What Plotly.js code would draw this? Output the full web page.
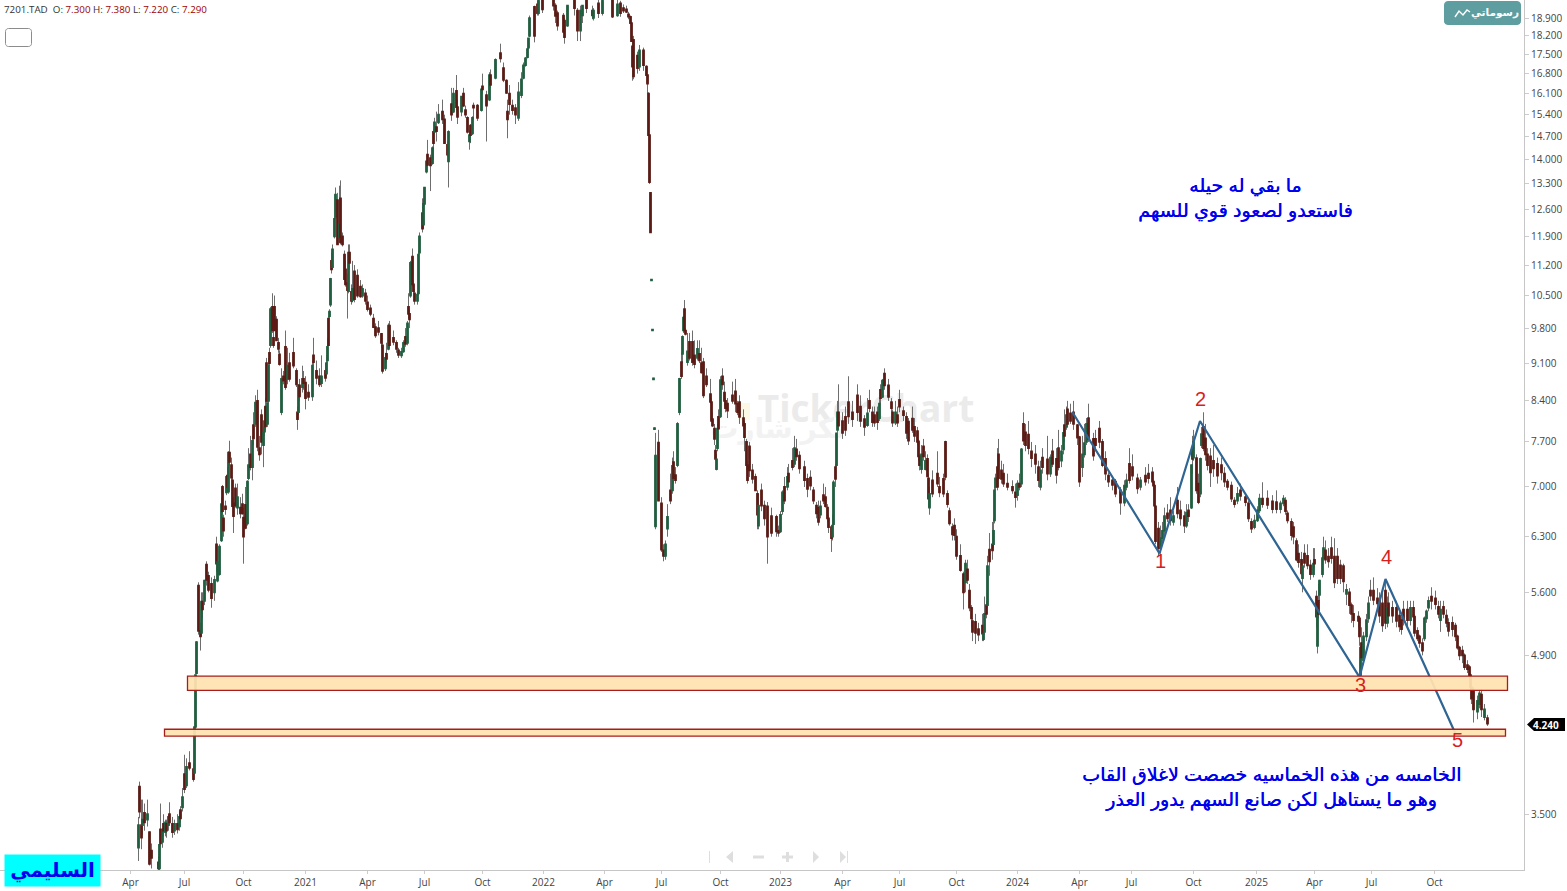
<!DOCTYPE html>
<html><head><meta charset="utf-8">
<script src="https://cdn.plot.ly/plotly-3.0.1.min.js"></script>
<style>html,body{margin:0;padding:0;background:#fff;overflow:hidden}</style>
</head><body><div id="chart" style="width:1567px;height:891px"></div>
<script>
// rows: [session, open, high, low, close]
const candles2020a=[[8,3.26,3.48,3.17,3.42],[9,3.71,3.75,3.47,3.52],[11,3.42,3.61,3.25,3.33],[12,3.42,3.61,3.35,3.46],[14,3.51,3.58,3.38,3.44],[17,3.46,3.61,3.41,3.50],[19,3.37,3.37,3.14,3.15],[21,3.24,3.29,3.12,3.19],[28,3.16,3.20,3.11,3.12],[29,3.12,3.28,3.11,3.28],[30,3.39,3.58,3.27,3.29],[32,3.30,3.40,3.26,3.38],[33,3.43,3.50,3.34,3.38],[35,3.37,3.46,3.34,3.44],[36,3.43,3.46,3.33,3.38],[38,3.42,3.50,3.38,3.48],[39,3.50,3.59,3.42,3.44],[42,3.43,3.48,3.33,3.37],[44,3.38,3.46,3.35,3.43],[47,3.43,3.50,3.36,3.39],[49,3.41,3.52,3.38,3.48],[50,3.53,3.56,3.44,3.47],[52,3.55,3.70,3.52,3.63],[54,3.81,3.97,3.66,3.69],[56,3.72,3.94,3.70,3.87],[59,3.90,4.00,3.84,3.86],[63,3.85,3.90,3.75,3.77],[64,3.82,4.21,3.81,4.21],[65,4.21,4.70,4.21,4.70],[66,4.72,5.05,4.72,5.04]];
const candles2020b=[[68,5.68,5.72,5.12,5.16],[70,5.16,5.25,4.95,5.10],[71,5.14,5.60,5.10,5.49],[72,5.49,5.60,5.30,5.40],[74,5.50,5.75,5.45,5.74],[76,5.94,5.98,5.68,5.75],[78,5.80,5.85,5.60,5.63],[81,5.70,5.78,5.42,5.53],[84,5.60,5.80,5.50,5.75],[86,6.2,6.3,5.85,5.95],[87,5.74,5.98,5.72,5.97],[89,5.82,6.20,5.80,6.17],[91,6.25,6.85,6.23,6.75],[92,7.0,7.03,6.62,6.65],[93,6.55,6.6,6.3,6.38],[95,6.72,6.8,6.6,6.68],[96,6.92,7.18,6.88,7.15],[97,7.17,7.3,6.95,7.0],[98,6.93,7.55,6.9,7.53],[99,7.53,7.72,7.32,7.38],[101,7.33,7.45,7.1,7.14],[102,7.1,7.15,6.72,6.72],[103,6.76,6.85,6.35,6.58],[105,6.98,7.05,6.7,6.73],[107,6.7,7.05,6.6,6.85],[110,6.7,6.85,6.55,6.62],[112,6.75,6.9,6.6,6.62],[113,6.56,6.7,5.95,6.3],[115,6.74,7.0,6.4,6.42],[117,6.48,7.1,6.45,7.08],[118,7.13,7.6,7.1,7.33],[120,7.5,7.8,7.25,7.3]];
const candles2020c=[[122,7.3,7.8,7.1,7.72],[123,7.98,8.2,7.65,7.76],[125,8.0,8.5,7.95,8.37],[127,8.4,8.6,7.55,7.62],[129,7.6,7.8,7.4,7.5],[131,8.15,8.25,7.5,7.7],[133,7.65,7.95,7.3,7.85],[134,7.87,8.3,7.8,8.05],[135,8.3,8.45,7.9,7.96],[136,9.1,9.2,8.35,8.4],[137,8.0,8.6,7.95,8.35],[138,8.4,9.2,8.35,9.05],[139,9.3,9.4,9.05,9.1],[140,9.45,10.25,9.4,10.2],[142,10.25,10.55,9.7,9.75],[143,9.6,9.75,9.4,9.45],[144,10.25,10.5,9.75,9.75],[146,9.98,10.05,9.55,9.55],[148,9.5,9.6,9.3,9.38],[149,9.27,9.35,9.05,9.08],[151,8.2,9.0,8.15,8.8],[153,8.85,8.95,8.7,8.77],[155,9.42,9.75,8.6,8.65],[157,8.8,9.4,8.7,9.05],[159,9.1,9.3,8.75,8.8],[163,9.3,9.6,9.0,9.05],[166,8.95,9.0,8.65,8.7],[167,8.2,8.3,7.9,8.08],[168,8.2,8.7,8.15,8.68],[169,8.68,8.8,8.4,8.48],[172,8.65,9.05,8.55,8.8],[173,8.8,8.95,8.6,8.72],[175,8.73,8.85,8.25,8.45]];
const candles2021a=[[178,8.55,8.7,8.4,8.47],[182,8.48,9.15,8.4,9.05],[183,9.25,9.6,9.05,9.12],[186,8.95,9.15,8.7,8.82],[189,8.85,9.0,8.65,8.7],[191,8.72,9.25,8.65,8.85],[195,8.95,9.1,8.75,8.82],[196,8.9,9.25,8.85,9.1],[197,9.15,9.6,9.1,9.42],[198,10.0,10.05,9.45,9.45],[199,10.05,10.2,10.0,10.15],[200,10.3,10.9,10.25,10.88],[201,11.3,11.5,11.0,11.1],[202,11.15,11.7,11.1,11.58],[204,11.9,12.4,11.85,12.35],[205,12.4,13.2,12.35,13.0],[207,12.85,13.05,11.7,11.7],[209,11.9,13.25,11.85,12.2],[210,12.9,13.4,11.7,11.75],[212,11.9,12.0,11.65,11.7],[214,11.45,11.55,10.85,10.87],[215,11.1,11.3,10.7,10.75],[217,10.78,11.0,10.0,10.62],[218,10.6,11.7,10.55,11.5],[219,11.5,11.7,11.1,11.25],[221,10.58,10.75,10.3,10.38],[222,10.4,11.3,10.35,10.65],[224,11.05,11.2,10.35,10.42],[227,10.95,11.1,10.45,10.5],[230,10.7,10.85,10.45,10.48],[232,10.5,10.75,10.45,10.65],[235,10.55,10.65,10.3,10.38]];
const candles2021b=[[237,10.35,10.5,10.15,10.2],[240,10.22,10.3,10.05,10.1],[243,10.0,10.1,9.8,9.82],[245,9.82,9.9,9.6,9.65],[248,9.8,9.95,9.65,9.72],[251,9.68,9.7,9.4,9.5],[252,9.45,9.5,8.9,8.95],[255,9.0,9.3,8.95,9.2],[256,9.28,9.5,9.1,9.18],[258,9.38,9.9,9.35,9.85],[259,9.85,9.95,9.4,9.45],[263,9.6,9.75,9.45,9.52],[266,9.5,9.55,9.3,9.38],[268,9.35,9.4,9.2,9.26],[271,9.25,9.4,9.2,9.32],[273,9.33,9.55,9.3,9.5],[275,9.62,9.8,9.42,9.48],[277,9.5,9.95,9.45,9.9],[278,10.25,10.55,10.0,10.1],[279,10.1,10.2,9.8,9.98],[280,10.5,11.3,10.45,11.25],[282,11.4,11.6,10.7,10.75],[283,10.75,10.85,10.55,10.6],[284,10.55,10.65,10.3,10.38],[287,10.38,10.6,10.3,10.52],[288,10.55,11.55,10.5,11.45],[289,11.5,12.0,11.45,11.9],[292,12.5,12.9,12.0,12.1],[293,12.2,12.9,12.1,12.75],[294,12.75,13.2,12.7,13.2],[296,13.65,13.95,13.6,13.95],[297,14.15,14.6,13.8,13.85]];
const candles2021c=[[300,14.05,14.15,13.1,13.83],[302,13.9,14.4,13.85,14.35],[303,14.85,14.95,14.0,14.5],[304,14.85,15.3,14.8,15.15],[306,15.0,15.5,14.55,14.87],[308,15.15,15.75,15.1,15.4],[312,15.5,15.9,15.1,15.25],[314,15.25,15.4,14.5,14.5],[317,14.45,14.55,14.1,14.15],[318,13.95,14.9,13.2,14.85],[321,15.75,16.3,15.2,15.4],[323,15.5,16.3,15.45,16.1],[326,16.2,16.75,15.55,15.65],[327,15.65,15.9,15.1,15.33],[331,15.5,16.0,15.35,16.0],[333,16.1,16.3,15.65,15.7],[335,15.55,15.7,15.3,15.4],[337,15.3,15.35,14.8,14.85],[339,14.55,14.9,14.3,14.75],[340,15.05,15.1,14.5,14.75],[342,14.8,15.35,14.75,15.3],[343,15.7,15.8,15.25,15.63],[347,15.7,15.75,15.2,15.3],[351,15.55,16.3,15.5,16.25],[352,16.35,16.8,16.1,16.25],[356,16.05,16.2,14.55,15.7],[359,15.9,16.85,15.85,16.75],[360,16.75,16.95,16.3,16.4],[365,16.65,17.35,16.6,17.3],[370,17.55,17.9,17.2,17.35],[373,17.0,17.2,16.5,16.58],[376,16.55,16.6,16.1,16.13],[377,15.5,15.9,14.65,15.25],[379,16.1,16.4,15.4,15.75],[382,15.7,15.9,15.4,15.55],[385,15.62,15.75,15.1,15.4]];
const candles2022a=[[388,15.3,16.5,15.2,16.15],[391,16.05,16.85,15.95,16.6],[393,16.65,17.2,16.6,17.1],[395,17.1,17.4,17.05,17.35],[397,17.4,17.75,17.35,17.7],[398,17.75,18.1,17.7,18.1],[399,18.2,19.0,18.15,18.9],[404,19.35,19.4,17.95,18.2],[407,19.45,19.6,19.0,19.1],[408,19.1,19.63,19.0,19.6],[412,19.63,19.7,19.1,19.25],[423,19.63,19.7,19.2,19.4],[425,19.4,19.5,18.7,18.98],[427,19.1,19.2,18.4,18.6],[433,19.0,19.1,18.3,18.35],[434,18.8,18.9,17.9,18.15],[437,18.6,19.4,18.55,19.4],[444,19.63,19.7,19.0,19.3],[447,19.2,19.3,18.0,18.4],[450,18.4,19.4,18.0,19.2],[452,19.0,19.4,18.7,19.4],[456,19.63,19.7,19.1,19.3],[462,19.2,19.4,18.85,19.0],[463,18.9,19.3,18.8,19.2],[468,19.5,19.7,18.9,19.1],[472,19.1,19.7,19.0,19.6],[482,19.63,19.7,18.9,18.95],[487,19.0,19.7,18.95,19.45],[490,19.5,19.6,18.95,19.1],[493,19.3,19.45,19.1,19.2],[496,19.25,19.4,19.1,19.15],[498,19.05,19.15,18.85,18.95],[500,18.95,19.0,18.65,18.7],[501,18.7,18.75,18.0,18.0],[502,17.8,18.2,16.55,17.05],[503,18.05,18.2,16.6,16.7],[507,17.45,17.6,16.8,17.0],[509,17.05,17.85,16.9,17.65],[513,17.65,17.75,16.9,17.1],[516,17.05,17.1,16.7,16.75],[517,16.75,16.75,16.1,16.45],[518,16.1,16.15,14.75,14.75],[519,14.75,14.75,13.3,13.35],[520,13.05,13.05,12.0,12.0],[521,10.84,10.86,10.84,10.86],[522,9.75,9.77,9.75,9.77],[523,8.79,8.81,8.79,8.81],[524,7.91,7.93,7.91,7.93]];
const candles2022b=[[525,6.44,7.85,6.4,7.48],[528,7.69,7.9,6.8,6.8],[531,6.76,6.85,6.1,6.13],[533,6.12,6.2,5.98,6.05],[535,6.05,6.25,6.0,6.2],[537,6.41,6.75,6.3,6.57],[540,6.95,7.2,6.75,6.8],[542,6.95,7.45,6.9,7.32],[543,7.38,7.55,7.05,7.13],[545,7.18,7.3,7.05,7.1],[547,7.33,8.03,7.3,8.0],[549,8.2,8.82,8.15,8.8],[551,9.12,9.3,8.8,8.85],[552,9.28,9.65,9.1,9.62],[553,9.75,10.05,9.7,10.02],[554,10.2,10.4,9.72,9.75],[555,9.75,9.8,9.65,9.68],[557,9.12,9.7,9.05,9.33],[559,9.52,9.7,9.15,9.2],[562,9.52,9.75,9.05,9.12],[564,9.25,9.55,9.0,9.08],[567,9.2,9.55,9.15,9.38],[569,9.28,9.55,9.1,9.15],[571,9.1,9.4,8.9,8.92],[573,9.12,9.2,8.45,8.5],[576,8.85,9.0,8.65,8.7],[580,8.52,8.8,8.35,8.38],[581,8.38,8.45,8.05,8.05],[582,8.08,8.2,7.95,7.97],[584,7.92,8.0,7.65,7.75],[585,7.56,7.65,7.4,7.43],[586,7.27,7.5,7.25,7.42],[587,7.6,8.0,7.55,7.92],[588,8.12,8.25,7.9,7.92],[590,8.13,8.85,8.1,8.78],[592,8.85,9.0,8.6,8.7],[594,8.55,8.75,8.3,8.4],[595,8.4,8.45,8.2,8.27],[597,8.35,8.45,8.1,8.23],[602,8.5,8.75,8.35,8.4],[605,8.57,8.8,8.2,8.35],[607,8.35,8.4,8.15,8.2],[609,8.38,8.5,8.0,8.12],[613,8.1,8.25,7.9,7.97],[614,8.0,8.05,7.55,7.78],[616,7.7,7.75,7.25,7.33],[617,7.33,7.4,7.05,7.1],[619,7.63,7.7,7.15,7.25],[622,7.25,7.35,7.05,7.12],[625,7.15,7.2,6.95,6.95],[627,6.9,6.95,6.4,6.6],[628,6.45,6.9,6.4,6.73],[631,6.95,7.05,6.65,6.73],[634,6.73,6.8,6.45,6.55],[637,6.72,6.78,5.95,6.3],[641,6.58,6.7,6.3,6.35],[646,6.57,6.6,6.3,6.37],[648,6.38,6.45,6.3,6.35]];
const candles2023a=[[650,6.37,6.65,6.35,6.6],[652,6.65,6.95,6.6,6.92],[654,7.0,7.15,6.75,6.8],[657,7.0,7.3,6.95,7.15],[658,7.2,7.35,7.0,7.08],[662,7.4,7.6,7.25,7.3],[664,7.35,7.8,7.3,7.6],[666,7.58,7.75,7.4,7.47],[669,7.48,7.55,7.2,7.28],[674,7.3,7.4,7.0,7.1],[677,7.12,7.2,6.85,6.97],[680,7.14,7.25,6.95,7.02],[683,6.95,7.0,6.75,6.8],[686,6.73,6.78,6.55,6.62],[688,6.7,6.8,6.45,6.5],[690,6.6,6.8,6.55,6.72],[693,6.88,7.05,6.75,6.8],[695,6.85,7.0,6.7,6.72],[697,6.7,6.75,6.5,6.55],[698,6.55,6.6,6.35,6.43],[701,6.43,6.45,6.1,6.28],[702,6.3,6.6,6.25,6.45],[703,6.47,7.1,6.45,7.07],[705,7.3,7.35,7.0,7.12],[706,7.33,7.85,7.3,7.84],[707,7.9,8.4,7.85,8.2],[708,8.2,8.7,7.9,7.97],[712,8.05,8.2,7.75,7.85],[715,8.12,8.3,7.8,7.9],[718,8.38,8.85,8.0,8.13],[722,8.2,8.4,7.95,8.08],[727,8.5,8.7,8.05,8.2],[730,8.3,8.5,7.95,8.05],[734,8.08,8.15,7.8,7.95],[737,7.98,8.45,7.95,8.18],[739,8.4,8.6,8.2,8.27],[742,8.2,8.3,7.95,8.03],[744,8.15,8.3,7.95,8.02],[747,8.2,8.3,7.9,8.03],[749,8.1,8.45,8.05,8.35],[750,8.6,8.7,8.35,8.45],[752,8.47,8.8,8.45,8.77],[754,8.9,9.0,8.6,8.68],[758,8.68,8.8,8.4,8.47],[761,8.38,8.45,8.2,8.27],[762,8.2,8.25,7.95,8.02],[765,8.02,8.4,7.98,8.2],[767,8.15,8.3,7.95,8.02],[769,8.42,8.6,8.2,8.3],[773,8.22,8.3,8.05,8.15],[776,8.12,8.2,7.75,7.85],[778,8.04,8.1,7.65,7.72],[782,8.09,8.3,7.85,7.9],[784,7.95,8.1,7.7,7.8],[787,7.88,7.95,7.65,7.7],[788,7.71,7.75,7.4,7.47],[789,7.47,7.5,7.25,7.33]];
const candles2023b=[[791,7.27,7.65,7.2,7.5],[793,7.63,7.75,7.4,7.47],[795,7.27,7.55,7.25,7.4],[797,7.43,7.5,7.15,7.16],[798,7.13,7.2,6.7,6.83],[799,6.7,7.0,6.6,6.9],[802,7.1,7.25,6.85,6.9],[807,7.2,7.55,7.0,7.05],[809,7.0,7.15,6.85,6.92],[813,7.12,7.2,6.85,6.9],[815,7.7,7.72,7.1,7.15],[817,6.9,6.95,6.7,6.75],[819,6.65,6.7,6.45,6.48],[822,6.43,6.48,6.25,6.33],[824,6.45,6.55,6.25,6.32],[826,6.3,6.4,6.0,6.05],[830,6.05,6.2,5.85,5.87],[833,5.82,5.85,5.4,5.6],[835,5.72,6.0,5.6,5.95],[837,5.88,6.0,5.7,5.75],[839,5.62,5.7,5.38,5.42],[841,5.42,5.45,5.2,5.3],[842,5.27,5.3,5.05,5.15],[845,5.26,5.35,5.02,5.14],[848,5.18,5.25,5.05,5.12],[852,5.22,5.35,5.05,5.13],[853,5.07,5.2,5.05,5.13],[854,5.15,5.55,5.12,5.35],[856,5.45,5.5,5.3,5.35],[857,5.45,6.05,5.42,5.92],[859,6.13,6.35,5.8,5.98],[862,6.2,6.5,6.0,6.12],[863,6.2,6.55,6.15,6.38],[864,6.52,7.0,6.48,6.95],[865,7.0,7.2,6.95,7.13],[867,7.3,7.6,6.95,7.0],[868,7.5,7.75,7.1,7.13],[871,7.25,7.4,7.05,7.12],[873,7.2,7.35,7.0,7.05],[877,7.05,7.2,6.95,7.0],[882,7.0,7.1,6.9,6.95],[885,6.92,7.05,6.7,6.85],[887,6.88,7.1,6.8,7.05]];
const candles2024a=[[889,7.05,7.2,6.95,7.0],[891,7.05,7.6,7.0,7.58],[893,8.0,8.2,7.65,7.72],[895,7.86,8.0,7.55,7.65],[898,7.82,8.05,7.5,7.6],[901,7.55,7.7,7.3,7.44],[905,7.5,7.65,7.2,7.35],[908,7.3,7.4,7.0,7.1],[910,7.0,7.4,6.95,7.25],[912,7.45,7.6,7.2,7.3],[917,7.42,7.8,7.1,7.2],[920,7.2,7.5,7.15,7.45],[922,7.55,7.75,7.3,7.35],[926,7.43,7.6,7.05,7.18],[928,7.6,7.9,7.25,7.3],[931,7.4,7.65,7.3,7.55],[933,7.58,7.9,7.5,7.85],[934,7.98,8.25,7.7,7.8],[936,7.95,8.3,7.9,8.15],[937,8.25,8.4,7.95,8.0],[940,8.18,8.35,8.0,8.05],[943,8.2,8.4,7.9,8.0],[947,7.98,8.0,7.65,7.77],[949,7.78,7.8,7.0,7.08],[952,7.3,7.8,7.15,7.5],[954,7.5,8.0,7.45,7.68],[956,7.7,8.1,7.65,8.0],[958,8.1,8.35,7.7,7.75],[963,7.75,7.85,7.4,7.48],[965,7.75,7.9,7.55,7.65],[969,7.92,8.05,7.6,7.7],[972,7.7,7.75,7.3,7.33],[975,7.43,7.55,7.1,7.2],[978,7.17,7.22,7.0,7.08],[982,7.1,7.15,6.95,7.03],[985,7.08,7.12,6.85,6.9],[990,6.95,7.0,6.6,6.77],[994,6.77,7.1,6.72,7.02],[996,7.0,7.2,6.95,7.1],[999,7.35,7.6,7.05,7.1],[1002,7.3,7.5,7.1,7.17],[1007,7.13,7.2,6.9,6.98],[1010,7.0,7.15,6.95,7.1],[1015,7.17,7.3,7.02,7.08],[1018,7.2,7.35,7.05,7.13],[1022,7.22,7.3,7.05,7.08],[1023,7.08,7.1,6.95,7.02],[1024,7.02,7.05,6.7,6.73],[1025,6.72,6.74,6.2,6.24],[1028,6.41,6.5,6.05,6.15],[1030,6.15,6.45,6.08,6.28],[1032,6.28,6.5,6.22,6.38],[1034,6.38,6.7,6.32,6.58],[1037,6.62,6.75,6.5,6.55],[1040,6.66,6.85,6.45,6.52],[1043,6.5,6.65,6.45,6.58],[1047,6.8,7.0,6.55,6.62],[1050,6.66,6.8,6.45,6.55],[1054,6.58,6.65,6.35,6.45],[1056,6.45,6.75,6.42,6.63],[1058,6.66,6.75,6.5,6.58],[1061,6.7,7.33,6.68,7.33],[1062,7.6,7.8,7.2,7.43],[1063,7.45,7.9,7.4,7.7]];
const candles2024b=[[1066,7.44,7.5,6.9,6.95],[1068,7.05,7.2,6.75,6.78],[1070,6.9,7.45,6.85,7.43],[1071,7.65,7.95,7.6,7.83],[1073,7.95,8.2,7.55,7.6],[1075,7.76,8.0,7.4,7.5],[1077,7.5,7.6,7.25,7.33],[1080,7.47,7.6,7.0,7.22],[1083,7.4,7.65,7.15,7.28],[1087,7.35,7.45,7.05,7.17],[1091,7.33,7.45,7.1,7.22],[1094,7.2,7.3,7.0,7.08],[1097,7.08,7.12,6.95,7.0],[1101,7.02,7.08,6.78,6.83],[1104,6.8,6.85,6.7,6.75],[1107,6.8,7.0,6.75,6.9],[1110,6.95,7.05,6.8,6.87],[1115,6.85,6.9,6.72,6.78],[1118,6.76,6.8,6.5,6.55],[1121,6.5,6.55,6.35,6.41],[1124,6.43,6.6,6.4,6.52]];
const candles2025a=[[1127,6.52,6.72,6.5,6.66],[1129,6.66,6.9,6.62,6.83],[1132,6.83,7.07,6.7,6.75],[1137,6.83,6.95,6.68,6.74],[1142,6.79,6.88,6.62,6.68],[1146,6.78,6.95,6.62,6.68],[1150,6.68,6.8,6.62,6.76],[1153,6.76,6.88,6.72,6.83],[1155,6.8,6.85,6.6,6.65],[1157,6.62,6.66,6.48,6.52],[1161,6.5,6.55,6.25,6.32],[1163,6.43,6.5,6.2,6.3],[1166,6.24,6.28,5.98,6.0],[1168,6.08,6.2,5.9,5.97],[1171,6.0,6.1,5.8,5.83],[1172,5.77,6.0,5.6,5.92],[1174,6.08,6.2,5.9,5.96],[1177,6.05,6.2,5.88,5.93],[1180,5.93,6.0,5.75,5.82],[1183,5.82,6.15,5.78,5.95],[1184,6.0,6.15,5.9,5.95],[1186,5.55,5.62,5.2,5.32],[1187,5.0,5.4,4.92,5.38],[1188,5.5,5.7,5.3,5.35],[1189,5.57,5.75,5.5,5.74],[1192,5.82,6.05,5.78,6.02],[1193,6.02,6.3,6.0,6.15],[1195,6.12,6.25,5.95,6.0],[1198,6.04,6.15,5.9,5.98],[1201,6.15,6.3,5.95,6.02],[1204,6.04,6.28,5.65,5.72],[1207,6.04,6.15,5.7,5.77],[1210,5.93,6.0,5.7,5.77],[1213,5.92,5.95,5.6,5.73],[1216,5.58,5.7,5.45,5.63],[1219,5.6,5.65,5.35,5.45],[1221,5.45,5.48,5.25,5.35],[1223,5.35,5.45,5.2,5.28],[1228,5.32,5.38,5.2,5.27],[1229,5.3,5.32,5.0,5.1],[1230,4.7,5.0,4.68,4.98],[1231,5.03,5.2,4.85,4.88],[1233,4.85,5.15,4.8,5.1],[1236,5.1,5.35,5.05,5.28],[1238,5.3,5.55,5.25,5.47]];
const candles2025b=[[1240,5.62,5.75,5.5,5.56],[1243,5.62,5.78,5.45,5.51],[1247,5.53,5.65,5.4,5.47],[1249,5.5,5.6,5.25,5.33],[1252,5.47,5.6,5.15,5.22],[1255,5.62,5.75,5.18,5.25],[1257,5.25,5.55,5.2,5.42],[1258,5.47,5.6,5.25,5.33],[1262,5.42,5.5,5.25,5.33],[1266,5.42,5.5,5.2,5.27],[1269,5.33,5.38,5.15,5.21],[1271,5.28,5.32,5.12,5.18],[1273,5.4,5.5,5.22,5.28],[1277,5.4,5.5,5.2,5.28],[1280,5.28,5.5,5.22,5.42],[1283,5.42,5.5,5.27,5.32],[1284,5.32,5.35,5.1,5.14],[1287,5.16,5.2,5.05,5.08],[1289,5.1,5.12,4.98,5.03],[1292,5.03,5.08,4.9,4.95],[1294,5.08,5.32,5.05,5.3],[1296,5.3,5.4,5.25,5.38],[1298,5.42,5.55,5.38,5.5],[1301,5.55,5.66,5.4,5.5],[1305,5.53,5.62,5.4,5.46],[1308,5.43,5.5,5.3,5.35],[1310,5.28,5.5,5.15,5.4],[1313,5.43,5.5,5.3,5.35],[1316,5.33,5.4,5.2,5.25],[1318,5.25,5.3,5.1,5.16],[1322,5.25,5.32,5.1,5.18],[1325,5.22,5.25,5.05,5.1],[1327,5.1,5.12,4.96,4.98],[1329,4.98,5.0,4.85,4.9],[1332,4.95,5.0,4.82,4.9],[1334,4.9,4.92,4.75,4.78],[1337,4.8,4.85,4.72,4.76],[1339,4.78,4.8,4.66,4.7],[1340,4.7,4.72,4.55,4.58],[1341,4.58,4.6,4.42,4.47],[1343,4.55,4.58,4.25,4.37],[1347,4.35,4.5,4.28,4.45],[1349,4.42,4.56,4.38,4.52],[1351,4.51,4.56,4.3,4.37],[1354,4.3,4.42,4.27,4.37],[1357,4.29,4.32,4.22,4.24]];

const waveSessions=[942,1029,1069.5,1229,1255,1325];
const wavePrices=[8.2,6.08,8.05,4.68,5.76,4.15];
const waveLabels=['1','2','3','4','5'];
const zoneUpper={s0:57,s1:1377,top:4.69,bottom:4.55};
const zoneLower={s0:34,s1:1375,top:4.19,bottom:4.13};
const priceTicks=[18.9,18.2,17.5,16.8,16.1,15.4,14.7,14.0,13.3,12.6,11.9,11.2,10.5,9.8,9.1,8.4,7.7,7.0,6.3,5.6,4.9,3.5];
const timeTickSessions=[0,54,113,175,237,294,352,413,474,531,590,650,712,769,826,887,949,1001,1063,1126,1184,1241,1304];
const timeTickLabels=['Apr','Jul','Oct','2021','Apr','Jul','Oct','2022','Apr','Jul','Oct','2023','Apr','Jul','Oct','2024','Apr','Jul','Oct','2025','Apr','Jul','Oct'];

const rows=[].concat(candles2020a,candles2020b,candles2020c,candles2021a,candles2021b,candles2021c,candles2022a,candles2022b,candles2023a,candles2023b,candles2024a,candles2024b,candles2025a,candles2025b);
const sess=rows.map(r=>r[0]),op=rows.map(r=>r[1]),hi=rows.map(r=>r[2]),lo=rows.map(r=>r[3]),cl=rows.map(r=>r[4]);

const W=1524,H=870;
const fx=p=>p/W, fy=p=>1-p/H;
const pathOf=pts=>pts.map((p,i)=>(i?'L':'M')+fx(p[0]).toFixed(5)+' '+fy(p[1]).toFixed(5)).join(' ');
function paperShape(pts,fill,stroke,w,closed){return {type:'path',xref:'paper',yref:'paper',path:pathOf(pts)+(closed?' Z':''),fillcolor:fill||'rgba(0,0,0,0)',line:{color:stroke||'rgba(0,0,0,0)',width:w||0},layer:'above'};}
function roundRect(x0,y0,x1,y1,r){const a=[];const n=5;const corner=(cx,cy,s)=>{for(let i=0;i<=n;i++){const t=s+i/n*Math.PI/2;a.push([cx+r*Math.cos(t),cy+r*Math.sin(t)]);}};corner(x1-r,y0+r,-Math.PI/2);corner(x1-r,y1-r,0);corner(x0+r,y1-r,Math.PI/2);corner(x0+r,y0+r,Math.PI);return a;}
const AR='"Liberation Sans","DejaVu Sans",sans-serif';
const UI='"Open Sans","Noto Sans",sans-serif';
const NAV='#dedede';
function note(px,py,text,size,color,opts){return Object.assign({xref:'paper',yref:'paper',x:fx(px),y:fy(py),text:text,showarrow:false,xanchor:'center',yanchor:'middle',font:{size:size,color:color,family:AR}},opts||{});}
const blueFont={size:19,color:'#0000ee',family:AR,shadow:'0.5px 0 0 #0000ee'};

const traces=[
 {type:'candlestick',x:sess,open:op,high:hi,low:lo,close:cl,whiskerwidth:0,hoverinfo:'skip',showlegend:false,
  increasing:{line:{color:'#6e6e6e',width:1},fillcolor:'rgba(0,0,0,0)'},decreasing:{line:{color:'#6e6e6e',width:1},fillcolor:'rgba(0,0,0,0)'}},
 {type:'candlestick',x:sess,open:op,close:cl,high:sess.map((_,i)=>Math.max(op[i],cl[i])),low:sess.map((_,i)=>Math.min(op[i],cl[i])),whiskerwidth:0,hoverinfo:'skip',showlegend:false,
  increasing:{line:{color:'#1f5f3f',width:1.7},fillcolor:'#4f9b78'},decreasing:{line:{color:'#5c1a14',width:1.7},fillcolor:'#0d0505'}},
 {type:'scatter',mode:'lines',x:waveSessions,y:wavePrices,line:{color:'#2f6593',width:2.2},hoverinfo:'skip',showlegend:false,cliponaxis:false}
];

const layout={
 width:1567,height:891,paper_bgcolor:'#fff',plot_bgcolor:'#fff',showlegend:false,boxmode:'overlay',boxgap:0,boxgroupgap:0,
 margin:{l:0,r:43,t:0,b:21,pad:0},hovermode:false,
 xaxis:{type:'linear',range:[-130.5,1393.5],showgrid:false,zeroline:false,rangeslider:{visible:false},tickmode:'array',tickvals:timeTickSessions,ticktext:timeTickLabels,
  ticks:'outside',ticklen:3,tickcolor:'#cccccc',tickwidth:1,showline:true,linecolor:'#c6c6c6',linewidth:1,tickfont:{size:10,color:'#444',family:UI}},
 yaxis:{type:'log',side:'right',range:[Math.log10(3.11),Math.log10(19.635)],showgrid:false,zeroline:false,tickmode:'array',tickvals:priceTicks,ticktext:priceTicks.map(v=>v.toFixed(3)),
  ticks:'outside',ticklen:4,tickcolor:'#cccccc',tickwidth:1,showline:true,linecolor:'#c6c6c6',linewidth:1,tickfont:{size:10,color:'#444',family:UI}},
 shapes:[
  {type:'rect',xref:'paper',yref:'paper',x0:fx(757),x1:fx(975),y0:fy(394),y1:fy(426),layer:'below',line:{width:0},fillcolor:'rgba(0,0,0,0)',label:{text:'TickerChart',textposition:'middle center',font:{size:37,color:'#ebebeb',family:UI,weight:700}}},
  {type:'rect',xref:'paper',yref:'paper',x0:fx(725),x1:fx(830),y0:fy(412),y1:fy(440),layer:'below',line:{width:0},fillcolor:'rgba(0,0,0,0)',label:{text:'تكر شارت',textposition:'middle center',font:{size:28,color:'#f2f2f2',family:AR,weight:700}}},
  {type:'rect',xref:'paper',yref:'paper',x0:fx(738),x1:fx(750),y0:fy(403),y1:fy(420),layer:'below',line:{width:0},fillcolor:'#fdf8e6'},
  {type:'rect',xref:'x',yref:'y',x0:zoneUpper.s0,x1:zoneUpper.s1,y0:zoneUpper.bottom,y1:zoneUpper.top,fillcolor:'rgba(255,226,176,0.94)',line:{color:'#a81c1c',width:1.3},layer:'above'},
  {type:'rect',xref:'x',yref:'y',x0:zoneLower.s0,x1:zoneLower.s1,y0:zoneLower.bottom,y1:zoneLower.top,fillcolor:'rgba(255,226,176,0.94)',line:{color:'#a81c1c',width:1.3},layer:'above'},
  paperShape(roundRect(5.5,28.5,31.5,46.5,3),'#fff','#8c8c8c',1,true),
  paperShape(roundRect(1444,1,1521,25,4),'#5f9ea0',null,0,true),
  paperShape([[1455,17],[1459,11],[1463,15],[1467,10],[1470,12]],null,'#ffffff',1.4,false),
  paperShape([[1527,724.5],[1534,718],[1565,718],[1565,731],[1534,731]],'#000000',null,0,true),
  paperShape([[709.5,851],[709.5,863]],null,NAV,1,false),
  paperShape([[733,851],[733,863],[726,857]],NAV,null,0,true),
  paperShape([[753,857],[764,857]],null,NAV,3,false),
  paperShape([[782,857],[793,857]],null,NAV,3,false),
  paperShape([[787.5,852],[787.5,862]],null,NAV,3,false),
  paperShape([[813,851],[813,863],[819,857]],NAV,null,0,true),
  paperShape([[840,851],[840,863],[846,857]],NAV,null,0,true),
  paperShape([[847.5,851],[847.5,863]],null,NAV,1,false)
 ],
 annotations:[
  note(2,9,'7201.TAD  O: <span style="color:#a00000">7.300</span> H: <span style="color:#a00000">7.380</span> L: <span style="color:#a00000">7.220</span> C: <span style="color:#a00000">7.290</span>',10,'#333',{xanchor:'left',font:{size:9.8,color:'#333',family:UI}}),
  note(1494.5,13,'<b>رسوماتي</b>',10.5,'#ffffff'),
  note(1546,724.5,'<b>4.240</b>',10,'#ffffff',{font:{size:10,color:'#fff',family:UI}}),
  note(1245,186,'ما بقي له حيله',19,'#0000ee',{font:blueFont}),
  note(1245,211,'فاستعدو لصعود قوي للسهم',19,'#0000ee',{font:blueFont}),
  note(1271,775,'الخامسه من هذه الخماسيه خصصت لاغلاق القاب',19,'#0000ee',{font:blueFont}),
  note(1271,800,'وهو ما يستاهل لكن صانع السهم يدور العذر',19,'#0000ee',{font:blueFont}),
  note(52.5,870.5,'<b>السليمي</b>',20,'#0000ee',{bgcolor:'#00ffff',width:95,height:31,borderpad:0}),
  note(1160,561,waveLabels[0],20,'#d81e1e'),
  note(1200,399,waveLabels[1],20,'#d81e1e'),
  note(1360,685,waveLabels[2],20,'#d81e1e'),
  note(1386,557,waveLabels[3],20,'#d81e1e'),
  note(1457,740,waveLabels[4],20,'#d81e1e')
 ]
};
Plotly.newPlot('chart',traces,layout,{displayModeBar:false,staticPlot:true,responsive:false});
</script></body></html>
